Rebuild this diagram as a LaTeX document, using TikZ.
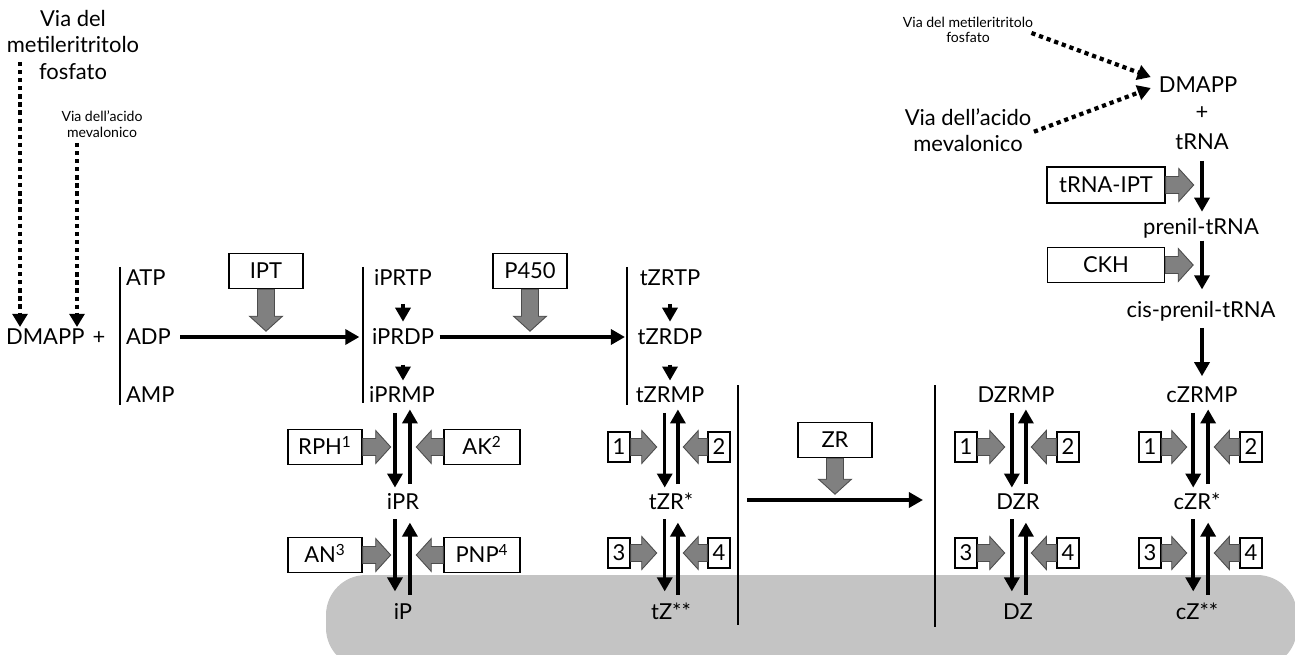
\documentclass[tikz,border=0pt]{standalone}
\usepackage{fontspec}
\setmainfont{Lato}
\usepackage{xcolor}
\usepackage{tikz}
\usetikzlibrary{calc,arrows.meta,positioning}
\definecolor{pool}{RGB}{196,196,196}
\definecolor{enzfill}{RGB}{128,128,128}

\tikzset{
  pics/garrow/.style={code={
    \draw[draw=black!70,fill=enzfill,line width=0.5pt]
      (0,-8.5) -- (#1-15,-8.5) -- (#1-15,-16.5) -- (#1,0) -- (#1-15,16.5) -- (#1-15,8.5) -- (0,8.5) -- cycle;}}
}

\begin{document}
\begin{tikzpicture}[x=0.02cm,y=-0.02cm,
      font=\fontsize{12.5}{15}\selectfont,
      met/.style={inner sep=1pt,text height=9pt,text depth=0pt},
      enz/.style={draw,fill=white,line width=0.8pt,inner sep=0pt,minimum width=1.48cm,minimum height=0.7cm,text height=9pt,text depth=0pt},
      num/.style={enz,minimum width=0.44cm,minimum height=0.6cm},
      rxn/.style={line width=2pt,-{Triangle[length=8pt,width=8.5pt]}},
      dn/.style={rxn,shorten <=4.5pt,shorten >=2.5pt},
      dn2/.style={rxn,shorten <=4pt,shorten >=6pt},
      bar/.style={line width=0.9pt},
      dotarr/.style={line width=2.4pt,dash pattern=on 2.4pt off 2.2pt,-{Triangle[length=7.5pt,width=8.5pt]}},
      small/.style={font=\fontsize{8}{8.8}\selectfont,align=center}]
    \useasboundingbox (0,0) rectangle (1295,655);
    \fill[pool,rounded corners=0.8cm] (326,575) rectangle (1297,668);
    % left entry
    \node[align=center] (mep) at (73,45) {Via del\\metileritritolo\\fosfato};
    \node[small] (mva) at (102,124) {Via dell'acido\\mevalonico};
    \node[met,anchor=west] (dm) at (4,337) {DMAPP};
    \node[met] (plus) at (99,337) {+};
    \coordinate (mepend) at (20,62);
    \coordinate (mvaend) at (77,143);
    \draw[dotarr] (mepend) -- (mepend |- dm.north);
    \draw[dotarr] (mvaend) -- (mvaend |- dm.north);
    \draw[bar] (120,267) -- (120,405);
    \node[met,anchor=west] (atp) at (124,278) {ATP};
    \node[met,anchor=west] (adp) at (124,337) {ADP};
    \node[met,anchor=west] (amp) at (124,395) {AMP};
    % iPR nucleotides
    \draw[bar] (363,267) -- (363,403);
    \node[met] (iprtp) at (403,278) {iPRTP};
    \node[met] (iprdp) at (403,337) {iPRDP};
    \node[met] (iprmp) at (402,395) {iPRMP};
    \draw[rxn,shorten <=9pt,shorten >=3pt] (iprtp) -- (iprdp);
    \draw[rxn,shorten <=10pt,shorten >=2.5pt] (iprdp) -- (iprdp |- iprmp.north);
    \draw[rxn,shorten <=4pt] (adp.east) -- ([xshift=-6pt]iprdp.west);
    \node[enz] (ipt) at (266,271) {IPT};
    \pic[rotate=-90] at (ipt.south) {garrow=42};
    % tZR nucleotides
    \draw[bar] (627,267) -- (627,405);
    \node[met] (tzrtp) at (670,278) {tZRTP};
    \node[met] (tzrdp) at (670,337) {tZRDP};
    \node[met] (tzrmp) at (670,395) {tZRMP};
    \draw[rxn,shorten <=9pt,shorten >=3pt] (tzrtp) -- (tzrdp);
    \draw[rxn,shorten <=10pt,shorten >=2.5pt] (tzrdp) -- (tzrmp);
    \draw[rxn,shorten <=2pt] (iprdp.east) -- ([xshift=-6pt]tzrdp.west);
    \node[enz] (p450) at (530,271) {P450};
    \pic[rotate=-90] at (p450.south) {garrow=42};
    % iP column
    \node[met] (ipr) at (403,502) {iPR};
    \node[met] (ip) at (403,612) {iP};
    \draw[dn] ([xshift=-4pt]iprmp.south) -- ([xshift=-4pt]iprmp.south |- ipr.north);
    \draw[dn] ([xshift=4.5pt]iprmp.south |- ipr.north) -- ([xshift=4.5pt]iprmp.south);
    \draw[dn2] ([xshift=-4pt]iprmp.south |- ipr.south) -- ([xshift=-4pt]iprmp.south |- ip.north);
    \draw[dn2] ([xshift=4.5pt]iprmp.south |- ip.north) -- ([xshift=4.5pt]iprmp.south |- ipr.south);
    \node[enz] (rph) at (325,447) {RPH\textsuperscript{1}};
    \node[enz,minimum width=1.52cm] (ak) at (482,447) {AK\textsuperscript{2}};
    \node[enz] (an) at (325,555) {AN\textsuperscript{3}};
    \node[enz,minimum width=1.52cm] (pnp) at (482,555) {PNP\textsuperscript{4}};
    \pic at (rph.east) {garrow=28};
    \pic[rotate=180] at (ak.west) {garrow=27};
    \pic at (an.east) {garrow=28};
    \pic[rotate=180] at (pnp.west) {garrow=27};
    % tZ column
    \node[met] (tzr) at (671,502) {tZR*};
    \node[met] (tz) at (671,612) {tZ**};
    \draw[dn] ([xshift=-3pt]tzrmp.south) -- ([xshift=-3pt]tzrmp.south |- tzr.north);
    \draw[dn] ([xshift=4.5pt]tzrmp.south |- tzr.north) -- ([xshift=4.5pt]tzrmp.south);
    \draw[dn2] ([xshift=-3pt]tzrmp.south |- tzr.south) -- ([xshift=-3pt]tzrmp.south |- tz.north);
    \draw[dn2] ([xshift=4.5pt]tzrmp.south |- tz.north) -- ([xshift=4.5pt]tzrmp.south |- tzr.south);
    \node[num] (t1) at (619,447) {1};
    \node[num] (t2) at (719,447) {2};
    \node[num] (t3) at (619,553) {3};
    \node[num] (t4) at (719,553) {4};
    \pic at (t1.east) {garrow=26};
    \pic[rotate=180] at (t2.west) {garrow=24};
    \pic at (t3.east) {garrow=26};
    \pic[rotate=180] at (t4.west) {garrow=24};
    % ZR step
    \draw[bar] (738,385) -- (738,625);
    \draw[bar] (935,385) -- (935,627);
    \coordinate (zrin) at (747,500);
    \coordinate (zrout) at (923,500);
    \draw[rxn] (zrin) -- (zrout);
    \node[enz] (zr) at (835,440) {ZR};
    \pic[rotate=-90] at (zr.south) {garrow=36};
    % DZ column
    \node[met] (dzrmp) at (1016,395) {DZRMP};
    \node[met] (dzr) at (1018,502) {DZR};
    \node[met] (dz) at (1018,612) {DZ};
    \draw[dn] ([xshift=-3.5pt]dzr.north |- dzrmp.south) -- ([xshift=-3.5pt]dzr.north);
    \draw[dn] ([xshift=4.5pt]dzr.north) -- ([xshift=4.5pt]dzr.north |- dzrmp.south);
    \draw[dn2] ([xshift=-3.5pt]dzr.south) -- ([xshift=-3.5pt]dzr.south |- dz.north);
    \draw[dn2] ([xshift=4.5pt]dzr.south |- dz.north) -- ([xshift=4.5pt]dzr.south);
    \node[num] (d1) at (966,447) {1};
    \node[num] (d2) at (1068,447) {2};
    \node[num] (d3) at (966,553) {3};
    \node[num] (d4) at (1068,553) {4};
    \pic at (d1.east) {garrow=27};
    \pic[rotate=180] at (d2.west) {garrow=25};
    \pic at (d3.east) {garrow=27};
    \pic[rotate=180] at (d4.west) {garrow=25};
    % tRNA route
    \node[small] (mep2) at (968,30) {Via del metileritritolo\\fosfato};
    \node[align=center] (mva2) at (968,130) {Via dell'acido\\mevalonico};
    \node[met] (dm2) at (1198,85) {DMAPP};
    \node[met] (plus2) at (1202,112) {+};
    \node[met] (trna) at (1202,142) {tRNA};
    \draw[dotarr] ([xshift=-4.5pt,yshift=-1.7pt]mep2.east) -- ([xshift=-3.4pt,yshift=4.5pt]dm2.west);
    \draw[dotarr] ([xshift=-2pt,yshift=-1pt]mva2.east) -- ([xshift=-3.4pt,yshift=-1.7pt]dm2.west);
    \node[met] (prenil) at (1201,227) {prenil-tRNA};
    \node[met] (cisprenil) at (1201,310) {cis-prenil-tRNA};
    \node[met] (czrmp) at (1202,395) {cZRMP};
    \draw[rxn,shorten <=5pt,shorten >=3pt] (trna.south) -- (trna.south |- prenil.north);
    \draw[rxn,shorten <=2pt,shorten >=6pt] (trna.south |- prenil.south) -- (trna.south |- cisprenil.north);
    \draw[rxn,shorten <=4.5pt,shorten >=5pt] (trna.south |- cisprenil.south) -- (trna.south |- czrmp.north);
    \node[enz,minimum width=2.36cm,minimum height=0.72cm] (trnaipt) at (1106,185) {tRNA-IPT};
    \node[enz,minimum width=2.34cm] (ckh) at (1106,265) {CKH};
    \pic at (trnaipt.east) {garrow=28};
    \pic at (ckh.east) {garrow=28};
    % cZ column
    \node[met] (czr) at (1197,502) {cZR*};
    \node[met] (cz) at (1197,612) {cZ**};
    \draw[dn] ([xshift=-5pt]czrmp.south) -- ([xshift=-5pt]czrmp.south |- czr.north);
    \draw[dn] ([xshift=3.5pt]czrmp.south |- czr.north) -- ([xshift=3.5pt]czrmp.south);
    \draw[dn2] ([xshift=-5pt]czrmp.south |- czr.south) -- ([xshift=-5pt]czrmp.south |- cz.north);
    \draw[dn2] ([xshift=3.5pt]czrmp.south |- cz.north) -- ([xshift=3.5pt]czrmp.south |- czr.south);
    \node[num] (c1) at (1150,447) {1};
    \node[num] (c2) at (1251,447) {2};
    \node[num] (c3) at (1150,553) {3};
    \node[num] (c4) at (1251,553) {4};
    \pic at (c1.east) {garrow=25};
    \pic[rotate=180] at (c2.west) {garrow=25};
    \pic at (c3.east) {garrow=25};
    \pic[rotate=180] at (c4.west) {garrow=25};
  \end{tikzpicture}
\end{document}
